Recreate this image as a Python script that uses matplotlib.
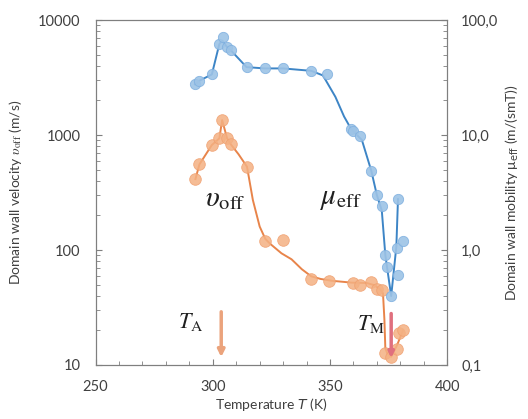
import numpy as np
import matplotlib.pyplot as plt
from matplotlib.ticker import FixedLocator, FixedFormatter, LogLocator, NullFormatter

plt.rcParams['font.family'] = ['Lato', 'DejaVu Sans']
plt.rcParams['mathtext.fontset'] = 'stix'

# domain wall velocity v_off (left axis), measured points
v_T = [292.6, 294.3, 299.6, 302.8, 304.0, 306.1, 307.6, 314.6, 322.4, 330.0, 342.1,
       349.4, 359.6, 362.8, 367.6, 370.0, 372.1, 373.6, 376.1, 378.7, 379.3, 381.1]
v_vals = [414, 556, 819, 936, 1349, 936, 835, 530, 120, 122, 56,
          54, 51.6, 49.6, 53, 45.8, 45, 12.8, 11.8, 13.8, 18.9, 20.1]
# guide line for v_off as drawn in the figure
v_line_T = [292.6, 294.3, 299.6, 302.8, 304.0, 306.1, 307.6, 311.0, 314.6, 317.1, 320.0,
            322.4, 324.3, 329.3, 333.6, 338.0, 342.0, 346.0, 350.7, 359.3, 365.7, 368.7,
            371.3, 372.6, 373.2, 373.6, 374.5, 376.1, 378.7, 381.1]
v_line_vals = [414, 556, 819, 936, 1349, 936, 835, 680, 530, 272, 160,
               125, 114, 93.6, 83, 68, 59, 56, 54, 52, 51.6, 49.6,
               45.8, 42, 25, 14, 12.5, 11.8, 15, 20]

# domain wall mobility mu_eff (right axis), measured points
mu_T = [292.4, 294.3, 299.6, 302.8, 304.3, 306.0, 307.6, 314.4, 322.1, 330.0, 342.0,
        348.9, 359.0, 360.0, 363.0, 367.6, 370.0, 372.1, 373.6, 374.3, 376.1, 378.9,
        378.7, 381.1, 379.0]
mu_vals = [27.6, 29.7, 33.7, 61.9, 70.7, 58.6, 54.9, 39.0, 38.0, 38.0, 36.2,
           33.7, 11.3, 10.8, 9.8, 4.9, 3.0, 2.41, 0.905, 0.716, 0.398, 0.607,
           1.04, 1.2, 2.77]
mu_line_T = [292.4, 294.3, 299.6, 302.8, 304.0, 306.0, 307.6, 314.4, 322.1, 330.0, 342.0,
             347.0, 352.3, 356.0, 359.0, 363.6, 367.6, 370.0, 372.1, 373.6, 374.3, 376.1,
             378.3, 379.0]
mu_line_vals = [27.6, 29.7, 33.7, 61.9, 66, 58.6, 54.9, 39.0, 38.0, 38.0, 36.2,
                33, 21.5, 14.5, 11.3, 9.06, 4.9, 3.0, 2.2, 0.905, 0.716, 0.398,
                1.07, 2.77]

T_A = 303.6
T_M = 376.1

x_ticks = [250, 300, 350, 400]
left_ticks = [10, 100, 1000, 10000]
left_labels = ['10', '100', '1000', '10000']
right_ticks = [0.1, 1, 10, 100]
right_labels = ['0,1', '1,0', '10,0', '100,0']

fig = plt.figure(figsize=(5.28, 4.19), dpi=100)
ax = fig.add_axes([0.181, 0.129, 0.666, 0.823])
ax2 = ax.twinx()

orange_line = '#e8844a'
orange_fill = '#f4b183'
blue_line = '#3d85c6'
blue_fill = '#9dc3e6'

ax.plot(v_line_T, v_line_vals, color=orange_line, lw=1.4, zorder=2)
ax.scatter(v_T, v_vals, s=70, color=orange_fill, alpha=0.85, edgecolor='#f0a070',
           linewidth=0.6, zorder=3)
ax2.plot(mu_line_T, mu_line_vals, color=blue_line, lw=1.4, zorder=2)
ax2.scatter(mu_T, mu_vals, s=55, color=blue_fill, alpha=0.9, edgecolor='#7fb0e0',
            linewidth=0.6, zorder=3)

ax.set_yscale('log')
ax2.set_yscale('log')
ax.set_xlim(250, 400)
ax.set_ylim(10, 10000)
ax2.set_ylim(0.1, 100)

ax.xaxis.set_major_locator(FixedLocator(x_ticks))
ax.xaxis.set_minor_locator(FixedLocator(np.arange(250, 401, 10)))
ax.yaxis.set_major_locator(FixedLocator(left_ticks))
ax.yaxis.set_major_formatter(FixedFormatter(left_labels))
ax.yaxis.set_minor_locator(LogLocator(base=10, subs=np.arange(2, 10)))
ax.yaxis.set_minor_formatter(NullFormatter())
ax2.yaxis.set_major_locator(FixedLocator(right_ticks))
ax2.yaxis.set_major_formatter(FixedFormatter(right_labels))
ax2.yaxis.set_minor_locator(LogLocator(base=10, subs=np.arange(2, 10)))
ax2.yaxis.set_minor_formatter(NullFormatter())

for a in (ax, ax2):
    for s in a.spines.values():
        s.set_color('#7f7f7f')
    a.tick_params(which='both', direction='in', colors='#7f7f7f', labelcolor='#404040',
                  labelsize=10.5)
    a.tick_params(which='major', length=4)
    a.tick_params(which='minor', length=3)
ax.tick_params(axis='x', pad=11)
ax.tick_params(axis='y', pad=11)
ax2.tick_params(axis='y', pad=10)

ax.set_xlabel('Temperature $T$ (K)', fontsize=10, color='#404040', labelpad=1,
              math_fontfamily='dejavusans')
ax.set_ylabel(r'Domain wall velocity $\upsilon_{\rm off}$ (m/s)', fontsize=10,
              color='#404040', labelpad=10)
ax2.set_ylabel(r'Domain wall mobility μ$_{\rm eff}$ (m/(smT))', fontsize=10,
               color='#404040', labelpad=4, math_fontfamily='dejavusans')

# arrows for T_A and T_M
ax.annotate('', xy=(T_A, 11.7), xytext=(T_A, 29),
            arrowprops=dict(arrowstyle='-|>', color='#eba37c', lw=2.5,
                            mutation_scale=10, shrinkA=0, shrinkB=0))
ax.annotate('', xy=(T_M, 11.5), xytext=(T_M, 28),
            arrowprops=dict(arrowstyle='-|>', color='#e0707e', lw=2.5,
                            mutation_scale=8, shrinkA=0, shrinkB=0), zorder=4)

ax.text(290.5, 23.5, r'$T_{\rm A}$', fontsize=16, ha='center', va='center', color='#202020')
ax.text(367.4, 22.5, r'$T_{\rm M}$', fontsize=16, ha='center', va='center', color='#202020')
ax.text(305.5, 280, r'$\upsilon_{\rm off}$', fontsize=21, ha='center', va='center',
        color='#202020')
ax.text(354.5, 280, r'$\mu_{\rm eff}$', fontsize=21, ha='center', va='center',
        color='#202020')

fig.savefig('out.png', dpi=100)
